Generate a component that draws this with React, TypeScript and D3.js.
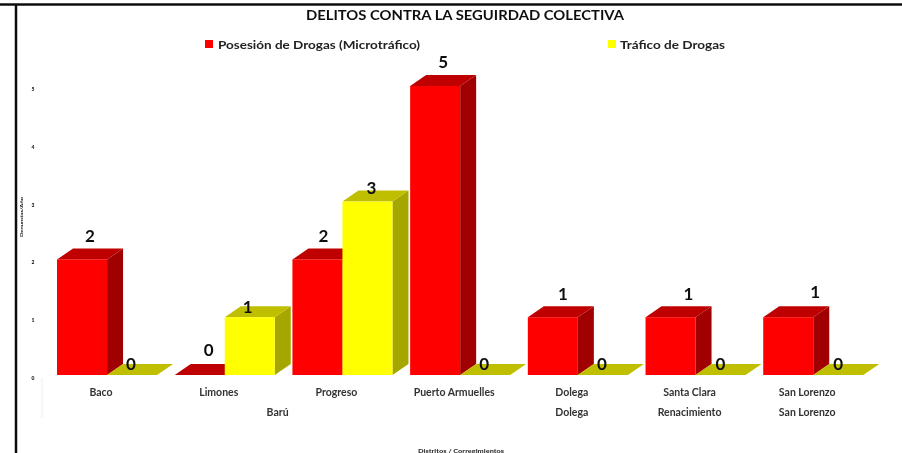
import React from "react";
import * as d3 from "d3";

const titleText = "DELITOS CONTRA LA SEGUIRDAD COLECTIVA";
const districts = ["Baco", "Limones", "Progreso", "Puerto Armuelles", "Dolega", "Santa Clara", "San Lorenzo"];
const corregimientos = [
  { label: "Barú", from: 0, to: 3 },
  { label: "Dolega", from: 4, to: 4 },
  { label: "Renacimiento", from: 5, to: 5 },
  { label: "San Lorenzo", from: 6, to: 6 },
];
const seriesNames = ["Posesión de Drogas (Microtráfico)", "Tráfico de Drogas"];
const posesion = [2, 0, 2, 5, 1, 1, 1];
const trafico = [0, 1, 3, 0, 0, 0, 0];
const yTicks = [0, 1, 2, 3, 4, 5];
const yAxisTitle = "Denuncias/Año";
const xAxisTitle = "Distritos / Corregimientos";

const faces = [
  { front: "#ff0000", top: "#bf0000", side: "#a00000" },
  { front: "#ffff00", top: "#bfbf00", side: "#a6a600" },
];
// manual label nudges [dx, dy], per series and category
const nudgePosesion = [[0, 0], [0, -14], [-2, 0], [0, -1], [2, 0], [10, 0], [19, -2]];
const nudgeTrafico = [[-1, 0], [-10, 13], [-4, 9], [-1, 0], [-1, 0], [0, 0], [0, 0]];

const FONT = "Lato, 'Open Sans', sans-serif";
const DX = 16;
const DY = 11;

export default function App() {
  const step = 117.7;
  const x0 = d3.scaleBand<string>()
    .domain(districts)
    .range([48.2, 48.2 + step * districts.length])
    .paddingInner(0.15)
    .paddingOuter(0.075);
  const x1 = d3.scaleBand<string>().domain(seriesNames).range([0, x0.bandwidth()]);
  const y = d3.scaleLinear().domain([0, 5]).range([375, 86]);
  const series = [posesion, trafico];
  const nudges = [nudgePosesion, nudgeTrafico];
  const center = (i: number) => (x0(districts[i]) as number) + x0.bandwidth() / 2;

  return (
    <svg width={902} height={453} style={{ position: "absolute", left: 0, top: 0, background: "#fff" }} fontFamily={FONT}>
      <defs>
        <filter id="soft" x="0" y="0" width="100%" height="100%">
          <feGaussianBlur stdDeviation="0.55" />
        </filter>
      </defs>
      <g filter="url(#soft)">
        <rect width={902} height={453} fill="#fff" />
        <line x1={0} x2={902} y1={4.5} y2={4.5} stroke="#111" strokeWidth={2.5} />
        <line x1={16} x2={16} y1={4} y2={453} stroke="#111" strokeWidth={2.5} />
        <line x1={42} x2={42} y1={378} y2={418} stroke="#eee" strokeWidth={1} />

        <text x={465} y={20} textAnchor="middle" fontSize={14} fontWeight={700} fill="#111" textLength={318} lengthAdjust="spacingAndGlyphs">{titleText}</text>

        <rect x={205} y={40} width={8} height={8} fill={faces[0].front} />
        <text x={218} y={48.5} fontSize={12} fontWeight={700} fill="#222" textLength={202} lengthAdjust="spacingAndGlyphs">{seriesNames[0]}</text>
        <rect x={608} y={40} width={8} height={8} fill={faces[1].front} />
        <text x={620} y={48.5} fontSize={12} fontWeight={700} fill="#222" textLength={105} lengthAdjust="spacingAndGlyphs">{seriesNames[1]}</text>

        {yTicks.map((t) => (
          <text key={t} x={33} y={y(t) + 5} textAnchor="middle" fontSize={5} fontWeight={900} fill="#111">{t}</text>
        ))}
        <text transform="translate(23,237) rotate(-90)" fontSize={4.5} fontWeight={900} fill="#222" textLength={40} lengthAdjust="spacingAndGlyphs">{yAxisTitle}</text>

        {districts.map((d, i) =>
          series.map((vals, s) => {
            const xl = (x0(d) as number) + (x1(seriesNames[s]) as number);
            const w = x1.bandwidth();
            const yt = y(vals[i]);
            const yb = y(0);
            const c = faces[s];
            const top = [[xl, yt], [xl + DX, yt - DY], [xl + w + DX, yt - DY], [xl + w, yt]];
            const side = [[xl + w, yt], [xl + w + DX, yt - DY], [xl + w + DX, yb - DY], [xl + w, yb]];
            const poly = (p: number[][]) => p.map((q) => q.join(",")).join(" ");
            return (
              <g key={d + s}>
                {vals[i] > 0 && <polygon points={poly(side)} fill={c.side} />}
                <polygon points={poly(top)} fill={c.top} />
                {vals[i] > 0 && <rect x={xl} y={yt} width={w} height={yb - yt} fill={c.front} />}
              </g>
            );
          })
        )}

        {districts.map((d, i) =>
          series.map((vals, s) => {
            const xl = (x0(d) as number) + (x1(seriesNames[s]) as number);
            const w = x1.bandwidth();
            const zero = vals[i] === 0;
            const [dx, dy] = nudges[s][i];
            const lx = xl + w / 2 + (zero ? 0 : 8) + (zero && s === 0 ? 9 : 0) + dx;
            const ly = y(vals[i]) + (zero ? -5 : -17) + dy;
            return (
              <text key={d + s} x={lx} y={ly} textAnchor="middle" fontSize={17} fontWeight={700} fill="#111">{vals[i]}</text>
            );
          })
        )}

        {districts.map((d, i) => (
          <text key={d} x={center(i) - 6} y={396} textAnchor="middle" fontSize={10.5} fontWeight={700} fill="#333">{d}</text>
        ))}
        {corregimientos.map((c) => (
          <text key={c.label} x={(center(c.from) + center(c.to)) / 2 - 6} y={415.5} textAnchor="middle" fontSize={10.5} fontWeight={700} fill="#333">{c.label}</text>
        ))}
        <text x={461} y={453} textAnchor="middle" fontSize={5.5} fontWeight={900} fill="#333" textLength={86} lengthAdjust="spacingAndGlyphs">{xAxisTitle}</text>
      </g>
    </svg>
  );
}
